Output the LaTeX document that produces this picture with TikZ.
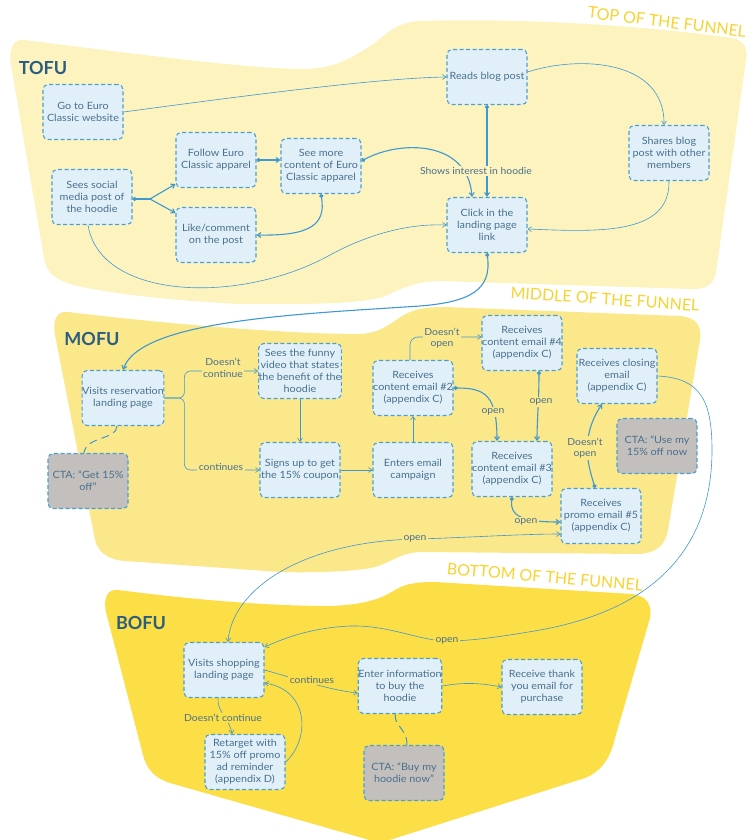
\documentclass[tikz,border=0pt]{standalone}
\usepackage{fontspec}
\setmainfont{Lato}[FakeStretch=1.08]
\newfontfamily\plainlato{Lato}
\usetikzlibrary{arrows.meta,calc}
\definecolor{tofuc}{HTML}{FDF3BF}
\definecolor{mofuc}{HTML}{FBE88B}
\definecolor{bofuc}{HTML}{FCDE46}
\definecolor{boxfill}{HTML}{E1F0F8}
\definecolor{boxline}{HTML}{4A9FD4}
\definecolor{ctafill}{HTML}{C3BFBC}
\definecolor{txt}{HTML}{48708E}
\definecolor{ttlc}{HTML}{2B5D80}
\definecolor{gold}{HTML}{F8D22E}
\definecolor{linkc}{HTML}{3E98D2}
\tikzset{
 box/.style={draw=boxline, fill=boxfill, dash pattern=on 4pt off 2.5pt, line width=1.1pt, rounded corners=5pt, minimum width=80pt, minimum height=55pt, align=center, inner sep=0pt, text=txt, font=\fontsize{10}{12}\selectfont},
 cta/.style={box, fill=ctafill},
 lbl/.style={text=txt, font=\fontsize{9.6}{11.5}\selectfont, inner sep=1.5pt, align=center},
 conn/.style={draw=linkc, line width=0.6pt},
 thk/.style={draw=linkc, line width=1.1pt},
 ctaln/.style={draw=linkc, line width=1pt, dash pattern=on 8pt off 5pt},
 arr/.style={-{Straight Barb[length=3.5pt,width=5pt]}},
 darr/.style={{Circle[length=4pt]}-{Straight Barb[length=3.5pt,width=5pt]}},
 bothar/.style={{Straight Barb[length=3.5pt,width=5pt]}-{Straight Barb[length=3.5pt,width=5pt]}},
 ttl/.style={text=ttlc, font=\plainlato\fontsize{18}{20}\selectfont\bfseries},
 bnr/.style={text=gold, font=\plainlato\fontsize{16}{18}\selectfont},
}
\begin{document}
\begin{tikzpicture}[x=1pt,y=-1pt]
\useasboundingbox (0,0) rectangle (750,840);
% regions
\fill[tofuc] (24,40) .. controls (120,52) and (240,68) .. (300,69) .. controls (340,69) and (355,55) .. (375,43) .. controls (390,30) and (400,22) .. (420,21) .. controls (520,18) and (640,25) .. (732,38) .. controls (745,40) and (748,50) .. (746,60) -- (716,272) .. controls (714,285) and (705,290) .. (690,289) -- (440,281) .. controls (410,282) and (400,290) .. (385,296) .. controls (370,302) and (330,305) .. (240,304) .. controls (160,300) and (100,292) .. (70,284) .. controls (52,278) and (46,270) .. (44,258) -- (11,65) .. controls (8,48) and (14,39) .. (24,40) -- cycle;
\fill[mofuc] (68,312) .. controls (150,322) and (280,334) .. (360,334) .. controls (385,333) and (395,318) .. (410,312) .. controls (420,308) and (430,307) .. (445,307) -- (680,316) .. controls (696,317) and (702,326) .. (700,340) -- (668,530) .. controls (665,545) and (658,552) .. (640,554) -- (420,552) .. controls (400,553) and (392,562) .. (375,567) .. controls (360,571) and (320,573) .. (280,572) -- (125,561) .. controls (108,560) and (98,552) .. (95,540) -- (55,335) .. controls (52,318) and (58,311) .. (68,312) -- cycle;
\fill[bofuc] (118,590) .. controls (180,598) and (260,606) .. (330,606) .. controls (360,605) and (380,600) .. (395,590) .. controls (405,584) and (415,582) .. (435,582) -- (632,594) .. controls (648,596) and (652,606) .. (650,618) -- (615,738) .. controls (610,760) and (600,772) .. (585,778) -- (380,843) -- (170,783) .. controls (155,778) and (147,770) .. (143,755) -- (106,612) .. controls (103,597) and (108,589) .. (118,590) -- cycle;
% titles
\node[ttl] (tofu) at (43,68) {TOFU};
\node[ttl] (mofu) at (92,339) {MOFU};
\node[ttl] (bofu) at (141,623) {BOFU};
\node[bnr, rotate=-7] (b1) at (667,22) {TOP OF THE FUNNEL};
\node[bnr, rotate=-4] (b2) at (605,299) {MIDDLE OF THE FUNNEL};
\node[bnr, rotate=-5] (b3) at (545,577) {BOTTOM OF THE FUNNEL};
% boxes
\node[box] (web) at (83,112) {Go to Euro\\Classic website};
\node[box] (social) at (92,197) {Sees social\\media post of\\the hoodie};
\node[box] (follow) at (216,160) {Follow Euro\\Classic apparel};
\node[box] (like) at (216,235) {Like/comment\\on the post};
\node[box] (seemore) at (321,166) {See more\\content of Euro\\Classic apparel};
\node[box] (blog) at (487,77) {Reads blog post};
\node[box] (click) at (487,225) {Click in the\\landing page\\link};
\node[box] (shares) at (669,153) {Shares blog\\post with other\\members};
\node[box] (visitres) at (123,398) {Visits reservation\\landing page};
\node[cta] (cta1) at (88,481) {CTA: “Get 15\%\\off”};
\node[box] (video) at (300,371) {Sees the funny\\video that states\\the benefit of the\\hoodie};
\node[box] (signs) at (300,470) {Signs up to get\\the 15\% coupon};
\node[box] (enters) at (413,470) {Enters email\\campaign};
\node[box] (email2) at (413,388) {Receives\\content email \#2\\(appendix C)};
\node[box] (email4) at (522,343) {Receives\\content email \#4\\(appendix C)};
\node[box] (email3) at (512,469) {Receives\\content email \#3\\(appendix C)};
\node[box] (closing) at (617,376) {Receives closing\\email\\(appendix C)};
\node[cta] (cta2) at (657,446) {CTA: “Use my\\15\% off now};
\node[box] (email5) at (601,516) {Receives\\promo email \#5\\(appendix C)};
\node[box] (visitshop) at (224,670) {Visits shopping\\landing page};
\node[box] (retarget) at (245,762) {Retarget with\\15\% off promo\\ad reminder\\(appendix D)};
\node[box] (enterinfo) at (400,686) {Enter information\\to buy the\\hoodie};
\node[cta] (cta3) at (404,773) {CTA: “Buy my\\hoodie now”};
\node[box] (thanks) at (542,687) {Receive thank\\you email for\\purchase};
% TOFU connectors
\draw[conn,arr] (web.east) .. controls (250,95) and (380,78) .. (blog.west);
\coordinate (br) at (150,199);
\draw[thk,{Circle[length=4pt]}-] ($(social.east)+(0,2)$) -- (br);
\draw[thk,arr] (br) -- ($(follow.south west)+(0,-4)$);
\draw[thk,arr] (br) -- ($(like.north west)+(0,6)$);
\draw[thk,darr] (follow.east) -- (follow.east -| seemore.west);
\draw[thk,darr] (seemore.south) .. controls (326,225) and (310,236) .. (like.east);
\draw[thk,darr] ($(seemore.east)+(0,-5)$) .. controls (400,140) and (468,140) .. ($(click.north)+(-15,0)$);
\draw[thk,darr] (blog.south) -- (click.north);
\draw[conn,arr] ($(social.south)+(-4,0)$) .. controls (100,300) and (240,305) .. (330,255) .. controls (380,228) and (420,224) .. (click.west);
\draw[conn,arr] (shares.south) .. controls (670,235) and (600,232) .. ($(click.east)+(0,4)$);
\draw[conn,arr] ($(blog.east)+(0,-5)$) .. controls (580,55) and (665,60) .. ($(shares.north)+(-5,0)$);
\draw[thk,darr] (click.south) .. controls (492,290) and (470,302) .. (420,306) .. controls (300,314) and (140,320) .. (visitres.north);
% MOFU connectors
\draw[conn,rounded corners=6pt,arr] (visitres.east) -- ++(20,0) |- (video.west);
\draw[conn,rounded corners=6pt,arr] (visitres.east) -- ++(20,0) |- (signs.west);
\draw[conn,arr] (video.south) -- (signs.north);
\draw[conn,arr] (signs.east) -- (enters.west);
\draw[conn,arr] (enters.north) -- (email2.south);
\draw[conn,rounded corners=8pt,arr] ($(email2.north)+(-3,0)$) |- ($(email4.west)+(0,-6)$);
\draw[thk,darr] (email2.east) .. controls (485,388) and (497,395) .. ($(email3.north)+(-15,0)$);
\draw[thk,darr] ($(email4.south)+(17,0)$) .. controls (539,400) and (537,420) .. ($(email3.north)+(25,0)$);
\draw[thk,darr] (email3.south) .. controls (510,515) and (520,522) .. ($(email5.west)+(0,6)$);
\draw[thk,darr] ($(email5.north)+(-6,0)$) .. controls (590,470) and (578,440) .. ($(closing.south)+(-15,0)$);
\draw[conn,arr] (closing.east) .. controls (700,378) and (712,400) .. (712,450) .. controls (712,560) and (640,612) .. (540,630) .. controls (500,637) and (470,641) .. (447,641) .. controls (420,641) and (390,625) .. (350,626) .. controls (310,628) and (285,638) .. ($(visitshop.north east)+(0,5)$);
\draw[conn,bothar] ($(email5.west)+(0,18)$) .. controls (520,534) and (460,538) .. (415,539) .. controls (300,542) and (232,590) .. ($(visitshop.north)+(4,0)$);
\draw[ctaln] ($(visitres.south)+(-6,0)$) .. controls (117,440) and (86,436) .. ($(cta1.north)+(-4,0)$);
% BOFU connectors
\draw[conn,arr] (visitshop.east) .. controls (300,680) and (330,690) .. ($(enterinfo.west)+(0,7)$);
\draw[conn,arr] ($(visitshop.south)+(-6,0)$) .. controls (217,712) and (230,720) .. ($(retarget.north)+(-13,0)$);
\draw[conn,arr] (retarget.east) .. controls (310,740) and (310,690) .. ($(visitshop.east)+(0,13)$);
\draw[conn,arr] (enterinfo.east) .. controls (465,682) and (480,683) .. (thanks.west);
\draw[ctaln] ($(enterinfo.south)+(-5,0)$) .. controls (395,728) and (407,728) .. ($(cta3.north)+(3,0)$);
% labels
\node[lbl, fill=tofuc] (l1) at (476,171) {Shows interest in hoodie};
\node[lbl, fill=mofuc] (l2) at (223,368) {Doesn’t\\continue};
\node[lbl, fill=mofuc] (l3) at (221,467) {continues};
\node[lbl, fill=mofuc] (l4) at (442,338) {Doesn’t\\open};
\node[lbl, fill=mofuc] (l5) at (493,412) {open};
\node[lbl, fill=mofuc] (l6) at (541,402) {open};
\node[lbl, fill=mofuc] (l7) at (585,448) {Doesn’t\\open};
\node[lbl, fill=mofuc] (l8) at (526,522) {open};
\node[lbl, fill=mofuc] (l9) at (415,539) {open};
\node[lbl, fill=bofuc] (l10) at (447,641) {open};
\node[lbl, fill=bofuc] (l11) at (312,680) {continues};
\node[lbl, fill=bofuc] (l12) at (223,718) {Doesn’t continue};
\end{tikzpicture}
\end{document}
